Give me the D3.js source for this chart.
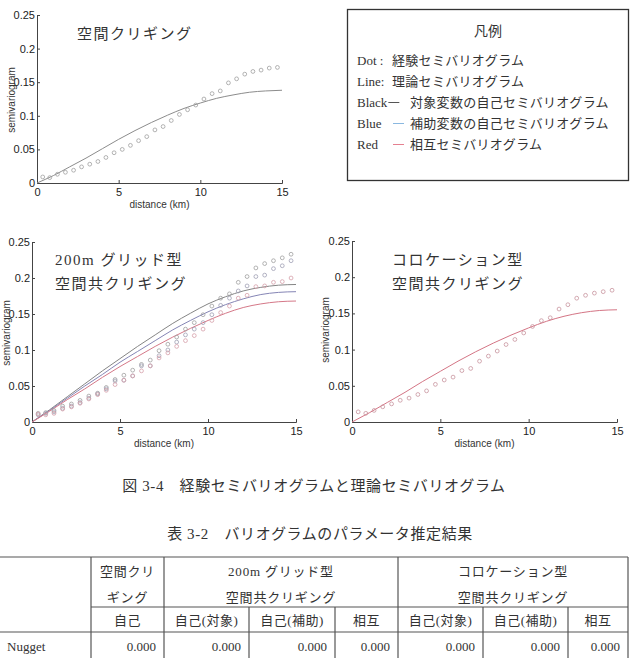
<!DOCTYPE html>
<html>
<head>
<meta charset="utf-8">
<script src="https://cdn.jsdelivr.net/npm/d3@7"></script>
<style>
  body { margin: 0; background: #fff; }
  svg { display: block; }
  .tick-label { font-family: "Liberation Sans", Arial, sans-serif; font-size: 11px; fill: #222; }
  .axis-title { font-family: "Liberation Sans", Arial, sans-serif; font-size: 10px; fill: #333; }
  .jp { font-family: "Liberation Serif", "Noto Sans CJK JP", serif; fill: #333; }
</style>
</head>
<body>
<div id="chart"></div>
<script>
// axis ticks
const xTicks = [0, 5, 10, 15];
const yTicks = [0, 0.05, 0.1, 0.15, 0.2, 0.25];

// lag distances of the empirical points (km)
const lags = [0.35, 0.78, 1.25, 1.74, 2.24, 2.73, 3.23, 3.73, 4.22, 4.72,
              5.22, 5.72, 6.22, 6.72, 7.22, 7.72, 8.22, 8.72, 9.22, 9.72,
              10.22, 10.72, 11.22, 11.72, 12.22, 12.72, 13.22, 13.72, 14.22, 14.72];
// distances at which the model curves were read
const modelDist = [0, 1, 2, 3, 4, 5, 6, 7, 8, 9, 10, 11, 12, 13, 14, 15];

// panel 1: 空間クリギング
const emp1 = [0.009, 0.008, 0.013, 0.016, 0.019, 0.024, 0.028, 0.032, 0.038, 0.045,
              0.050, 0.056, 0.063, 0.069, 0.079, 0.084, 0.093, 0.102, 0.109, 0.116,
              0.125, 0.133, 0.137, 0.149, 0.155, 0.162, 0.166, 0.168, 0.171, 0.172];
const model1 = [0, 0.011, 0.024, 0.037, 0.051, 0.065, 0.078, 0.090, 0.101, 0.111,
                0.119, 0.126, 0.131, 0.135, 0.137, 0.138];

// panel 2: 200m グリッド型 空間共クリギング
const emp2Target = [0.012, 0.013, 0.016, 0.022, 0.025, 0.030, 0.036, 0.040, 0.048, 0.059,
                    0.065, 0.072, 0.080, 0.086, 0.099, 0.108, 0.118, 0.129, 0.138, 0.149,
                    0.161, 0.172, 0.178, 0.194, 0.202, 0.214, 0.220, 0.224, 0.228, 0.233];
const emp2Aux = [0.010, 0.012, 0.014, 0.019, 0.022, 0.027, 0.033, 0.039, 0.046, 0.057,
                 0.058, 0.064, 0.078, 0.078, 0.092, 0.100, 0.111, 0.121, 0.129, 0.138,
                 0.149, 0.162, 0.172, 0.182, 0.189, 0.202, 0.204, 0.213, 0.217, 0.224];
const emp2Cross = [0.011, 0.010, 0.012, 0.018, 0.021, 0.026, 0.032, 0.038, 0.044, 0.052,
                   0.058, 0.064, 0.071, 0.078, 0.089, 0.096, 0.105, 0.113, 0.120, 0.129,
                   0.141, 0.152, 0.161, 0.172, 0.176, 0.188, 0.189, 0.194, 0.195, 0.200];
const model2Target = [0, 0.017, 0.035, 0.053, 0.071, 0.088, 0.105, 0.121, 0.137, 0.151,
                      0.164, 0.174, 0.182, 0.187, 0.190, 0.191];
const model2Aux = [0, 0.016, 0.033, 0.050, 0.066, 0.083, 0.098, 0.113, 0.128, 0.141,
                   0.153, 0.163, 0.171, 0.177, 0.180, 0.181];
const model2Cross = [0, 0.015, 0.031, 0.046, 0.062, 0.077, 0.091, 0.105, 0.118, 0.130,
                     0.141, 0.151, 0.159, 0.164, 0.167, 0.168];

// panel 3: コロケーション型 空間共クリギング
const emp3 = [0.014, 0.012, 0.016, 0.021, 0.025, 0.030, 0.033, 0.038, 0.043, 0.052,
              0.058, 0.062, 0.071, 0.074, 0.084, 0.091, 0.098, 0.107, 0.114, 0.123,
              0.132, 0.140, 0.144, 0.156, 0.162, 0.171, 0.175, 0.178, 0.180, 0.182];
const model3 = [0, 0.013, 0.027, 0.041, 0.056, 0.070, 0.084, 0.097, 0.109, 0.120,
                0.130, 0.139, 0.146, 0.151, 0.154, 0.155];

// legend
const legendTitle = '凡例';
const legendRows = [
  { key: 'Dot :', label: '経験セミバリオグラム', dash: null },
  { key: 'Line:', label: '理論セミバリオグラム', dash: null },
  { key: 'Black', label: '対象変数の自己セミバリオグラム', dash: '#555' },
  { key: 'Blue', label: '補助変数の自己セミバリオグラム', dash: '#8ab8e0' },
  { key: 'Red', label: '相互セミバリオグラム', dash: '#e58090' }
];

// captions and table
const figCaption = '図 3-4　経験セミバリオグラムと理論セミバリオグラム';
const tableCaption = '表 3-2　バリオグラムのパラメータ推定結果';
const tableGroups = [
  ['空間クリ', 'ギング'],
  ['200m グリッド型', '空間共クリギング'],
  ['コロケーション型', '空間共クリギング']
];
const subHeaders = ['自己', '自己(対象)', '自己(補助)', '相互', '自己(対象)', '自己(補助)', '相互'];
const rowLabels = ['Nugget'];
const nuggetValues = [0.000, 0.000, 0.000, 0.000, 0.000, 0.000, 0.000];

const W = 630, H = 658;
const svg = d3.select('#chart').append('svg')
  .attr('width', W).attr('height', H);
svg.append('rect').attr('width', W).attr('height', H).attr('fill', '#fff');

function drawPanel(cfg) {
  const x = d3.scaleLinear().domain([0, 15]).range([cfg.left, cfg.right]);
  const y = d3.scaleLinear().domain([0, 0.25]).range([cfg.bottom, cfg.top]);
  const g = svg.append('g');

  // axes
  g.append('g')
    .attr('transform', `translate(0,${cfg.bottom})`)
    .call(d3.axisBottom(x).tickValues(xTicks).tickSize(-3).tickPadding(5).tickFormat(d => d))
    .call(a => a.select('.domain').attr('stroke', '#444'))
    .call(a => a.selectAll('line').attr('stroke', '#444'))
    .call(a => a.selectAll('text').attr('class', 'tick-label').attr('fill', null));
  g.append('g')
    .attr('transform', `translate(${cfg.left},0)`)
    .call(d3.axisLeft(y).tickValues(yTicks).tickSize(-3).tickPadding(2).tickFormat(d => d))
    .call(a => a.select('.domain').attr('stroke', '#444'))
    .call(a => a.selectAll('line').attr('stroke', '#444'))
    .call(a => a.selectAll('text').attr('class', 'tick-label').attr('fill', null));
  // let the css class set the tick font
  g.selectAll('g').attr('font-size', null).attr('font-family', null);

  g.append('text')
    .attr('class', 'axis-title')
    .attr('x', (cfg.left + cfg.right) / 2)
    .attr('y', cfg.bottom + 25)
    .attr('text-anchor', 'middle')
    .text('distance (km)');
  g.append('text')
    .attr('class', 'axis-title')
    .attr('transform', `translate(${cfg.ylabelX},${cfg.ylabelY}) rotate(-90)`)
    .attr('text-anchor', 'middle')
    .text('semivariogram');

  const line = d3.line()
    .x((d, i) => x(modelDist[i]))
    .y(d => y(d))
    .curve(d3.curveMonotoneX);

  cfg.models.forEach(m => {
    g.append('path')
      .datum(m.values)
      .attr('d', line)
      .attr('fill', 'none')
      .attr('stroke', m.color)
      .attr('stroke-width', 1);
  });

  cfg.points.forEach(p => {
    g.selectAll(null)
      .data(p.values)
      .enter().append('circle')
      .attr('cx', (d, i) => x(lags[i]))
      .attr('cy', d => y(d))
      .attr('r', 1.9)
      .attr('fill', 'none')
      .attr('stroke', p.color)
      .attr('stroke-width', 0.8);
  });

  cfg.title.forEach((t, i) => {
    g.append('text')
      .attr('class', 'jp')
      .attr('x', cfg.titleX)
      .attr('y', cfg.titleY + i * 24)
      .style('font-size', '15px')
      .style('letter-spacing', '1.5px')
      .text(t);
  });
}

drawPanel({
  left: 37, right: 282, top: 15, bottom: 183,
  ylabelX: 15, ylabelY: 100,
  titleX: 77, titleY: 39,
  title: ['空間クリギング'],
  models: [{ values: model1, color: '#8c8c8c' }],
  points: [{ values: emp1, color: '#a0a0a0' }]
});

drawPanel({
  left: 32, right: 296, top: 242, bottom: 422,
  ylabelX: 10, ylabelY: 333,
  titleX: 55, titleY: 265,
  title: ['200m グリッド型', '空間共クリギング'],
  models: [
    { values: model2Target, color: '#858585' },
    { values: model2Aux, color: '#8585b5' },
    { values: model2Cross, color: '#d57888' }
  ],
  points: [
    { values: emp2Target, color: '#a0a0a0' },
    { values: emp2Aux, color: '#a0a0b4' },
    { values: emp2Cross, color: '#d6a0aa' }
  ]
});

drawPanel({
  left: 352, right: 617, top: 241, bottom: 422,
  ylabelX: 329, ylabelY: 330,
  titleX: 392, titleY: 265,
  title: ['コロケーション型', '空間共クリギング'],
  models: [{ values: model3, color: '#d47585' }],
  points: [{ values: emp3, color: '#c8949e' }]
});

// legend box
const lg = svg.append('g');
lg.append('rect')
  .attr('x', 347.5).attr('y', 9.5).attr('width', 281).attr('height', 171)
  .attr('fill', '#fff').attr('stroke', '#333').attr('stroke-width', 1.3);
lg.append('text')
  .attr('class', 'jp')
  .attr('x', 488).attr('y', 36)
  .attr('text-anchor', 'middle')
  .style('font-size', '14px')
  .text(legendTitle);
legendRows.forEach((r, i) => {
  const yy = 65 + i * 21;
  const keyText = lg.append('text').attr('class', 'jp')
    .attr('x', 357).attr('y', yy)
    .style('font-size', '13px')
    .text(r.key);
  if (r.dash) {
    // Black dash sits right after its word, the others in a fixed slot
    const x0 = r.key === 'Black' ? 357 + keyText.node().getComputedTextLength() + 1 : 393;
    lg.append('line')
      .attr('x1', x0).attr('x2', x0 + 11)
      .attr('y1', yy - 4.5).attr('y2', yy - 4.5)
      .attr('stroke', r.dash).attr('stroke-width', 1);
  }
  lg.append('text').attr('class', 'jp')
    .attr('x', r.dash ? 410 : 392).attr('y', yy)
    .style('font-size', '13px')
    .style('letter-spacing', '0.3px')
    .text(r.label);
});

// captions
svg.append('text').attr('class', 'jp')
  .attr('x', 314).attr('y', 491)
  .attr('text-anchor', 'middle')
  .style('font-size', '15px')
  .style('letter-spacing', '0.6px')
  .text(figCaption);
svg.append('text').attr('class', 'jp')
  .attr('x', 320).attr('y', 539)
  .attr('text-anchor', 'middle')
  .style('font-size', '15px')
  .style('letter-spacing', '0.6px')
  .text(tableCaption);

// table
const colX = [91, 164, 249, 335, 398, 483, 568, 628];
const rowY = [557, 607, 632, 670];
const tg = svg.append('g').attr('stroke', '#555').attr('stroke-width', 1.2);
tg.append('line').attr('x1', 0).attr('x2', 628).attr('y1', rowY[0]).attr('y2', rowY[0]);
tg.append('line').attr('x1', colX[0]).attr('x2', 628).attr('y1', rowY[1]).attr('y2', rowY[1]);
tg.append('line').attr('x1', 0).attr('x2', 628).attr('y1', rowY[2]).attr('y2', rowY[2]);
colX.forEach((cx, i) => {
  const full = [0, 1, 4, 7].includes(i);
  tg.append('line')
    .attr('x1', cx).attr('x2', cx)
    .attr('y1', full ? rowY[0] : rowY[1]).attr('y2', rowY[3]);
});

const groupSpans = [[0, 1], [1, 4], [4, 7]];
tableGroups.forEach((lines, gi) => {
  const cx = (colX[groupSpans[gi][0]] + colX[groupSpans[gi][1]]) / 2;
  lines.forEach((t, li) => {
    svg.append('text').attr('class', 'jp')
      .attr('x', cx).attr('y', 576 + li * 26)
      .attr('text-anchor', 'middle')
      .style('font-size', '13px')
      .style('letter-spacing', '0.8px')
      .text(t);
  });
});
subHeaders.forEach((t, i) => {
  svg.append('text').attr('class', 'jp')
    .attr('x', (colX[i] + colX[i + 1]) / 2).attr('y', 625)
    .attr('text-anchor', 'middle')
    .style('font-size', '13px')
    .style('letter-spacing', '0.5px')
    .text(t);
});
svg.append('text').attr('class', 'jp')
  .attr('x', 7).attr('y', 651)
  .style('font-size', '13px')
  .text(rowLabels[0]);
nuggetValues.forEach((v, i) => {
  svg.append('text').attr('class', 'jp')
    .attr('x', colX[i + 1] - 8).attr('y', 651)
    .attr('text-anchor', 'end')
    .style('font-size', '13px')
    .text(d3.format('.3f')(v));
});
</script>
</body>
</html>
